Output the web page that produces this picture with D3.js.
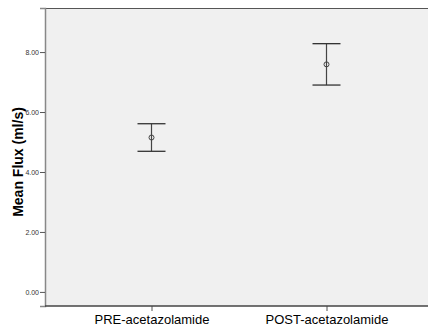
<!DOCTYPE html>
<html>
  <head>
    <meta charset="utf-8">
    <script src="https://d3js.org/d3.v7.min.js"></script>
    <style type="text/css">
    body { margin: 0; background: #fff; }
    .tick text { font-family: "Liberation Sans", Arial, sans-serif; }
    </style>
  </head>
  <body>
    <div id="chart"></div>
    <script>
      // values
      var categories = ['PRE-acetazolamide', 'POST-acetazolamide'];
      var means = [5.15, 7.59];
      var lower = [4.69, 6.90];
      var upper = [5.61, 8.28];
      var yTicks = [0, 2, 4, 6, 8];

      var width = 428, height = 331;
      var margin = {top: 8, right: 0, bottom: 25, left: 45};

      var svg = d3.select('#chart').append('svg')
          .attr('width', width)
          .attr('height', height);

      // the two groups sit a little left of the centre
      var x = d3.scalePoint()
          .domain(categories)
          .range([64, 414])
          .padding(0.5);

      var y = d3.scaleLinear()
          .domain([-0.47, 9.47])
          .range([height - margin.bottom, margin.top]);

      // plot background
      svg.append('rect')
          .attr('x', margin.left)
          .attr('y', margin.top)
          .attr('width', width - margin.left - margin.right)
          .attr('height', height - margin.top - margin.bottom)
          .style('fill', '#f0f0f0');

      // top border
      svg.append('line')
          .attr('x1', margin.left).attr('x2', width)
          .attr('y1', margin.top + 0.5).attr('y2', margin.top + 0.5)
          .style('stroke', '#555').style('stroke-width', 1);

      var yAxis = svg.append('g')
          .attr('transform', 'translate(' + margin.left + ',0)')
          .call(d3.axisLeft(y).tickValues(yTicks).tickSize(5).tickPadding(1)
                .tickFormat(d3.format('.2f')));
      yAxis.select('.domain').style('stroke', '#888').style('stroke-width', 1.5);
      yAxis.selectAll('.tick line').style('stroke', '#555');
      yAxis.selectAll('.tick text').style('font-size', '7px').style('fill', '#333');

      var xAxis = svg.append('g')
          .attr('transform', 'translate(0,' + (height - margin.bottom) + ')')
          .call(d3.axisBottom(x).tickSize(5).tickPadding(4).tickSizeOuter(0));
      xAxis.select('.domain').remove();
      xAxis.selectAll('.tick line').style('stroke', '#555');
      xAxis.selectAll('.tick text').style('font-size', '13px').style('fill', '#000');

      // bottom border across the whole plot
      svg.append('line')
          .attr('x1', margin.left).attr('x2', width)
          .attr('y1', height - margin.bottom).attr('y2', height - margin.bottom)
          .style('stroke', '#444').style('stroke-width', 1.5);

      // y title
      svg.append('text')
          .attr('transform', 'translate(23,162) rotate(-90)')
          .attr('text-anchor', 'middle')
          .style('font-family', '"Liberation Sans", Arial, sans-serif')
          .style('font-size', '14px')
          .style('font-weight', 'bold')
          .text('Mean Flux (ml/s)');

      var data = categories.map(function(c, i) {
        return {cat: c, mean: means[i], lo: lower[i], hi: upper[i]};
      });

      var g = svg.selectAll('.err').data(data).enter().append('g').attr('class', 'err');
      g.append('line')
          .attr('x1', function(d) { return x(d.cat); })
          .attr('x2', function(d) { return x(d.cat); })
          .attr('y1', function(d) { return y(d.lo); })
          .attr('y2', function(d) { return y(d.hi); })
          .style('stroke', '#444').style('stroke-width', 1.2);
      g.selectAll('.cap').data(function(d) { return [d.lo, d.hi].map(function(v) { return {cat: d.cat, v: v}; }); })
        .enter().append('line')
          .attr('x1', function(d) { return x(d.cat) - 14; })
          .attr('x2', function(d) { return x(d.cat) + 14; })
          .attr('y1', function(d) { return y(d.v); })
          .attr('y2', function(d) { return y(d.v); })
          .style('stroke', '#333').style('stroke-width', 1.3);
      g.append('circle')
          .attr('cx', function(d) { return x(d.cat); })
          .attr('cy', function(d) { return y(d.mean); })
          .attr('r', 2.5)
          .style('fill', 'none')
          .style('stroke', '#444')
          .style('stroke-width', 1);
    </script>
  </body>
</html>
